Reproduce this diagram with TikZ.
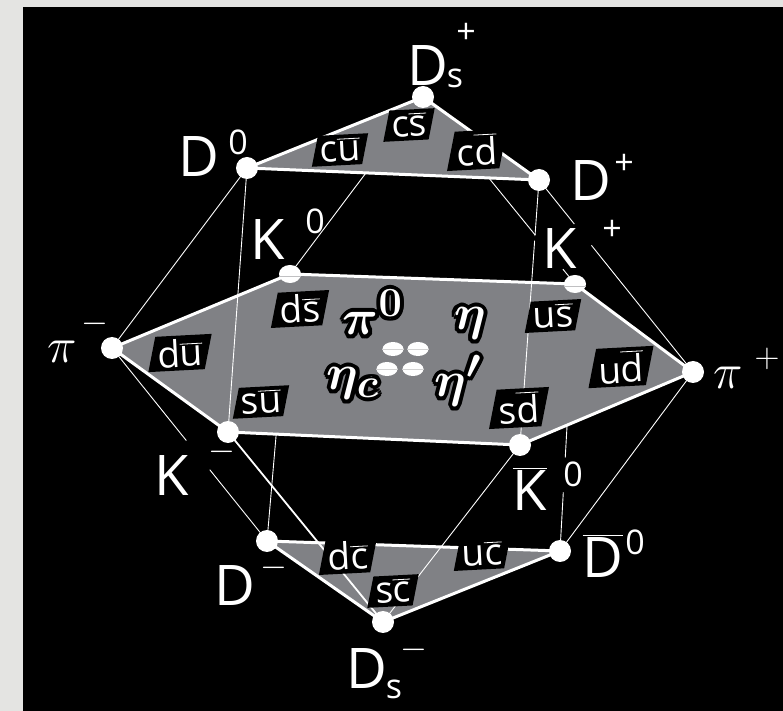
\documentclass[tikz,border=0pt]{standalone}
\usepackage{fontspec}
\setmainfont{Open Sans}
\usepackage{xcolor}
\usepackage{tikz}
\usetikzlibrary{calc,shapes.geometric,positioning}
\definecolor{cFace}{RGB}{128,129,133}
\definecolor{cPaper}{RGB}{228,228,226}
\tikzset{
  face/.style={fill=cFace, draw=white, line width=1.5pt, line join=round},
  wire/.style={draw=white, line width=0.45pt},
  wirek/.style={draw=white, line width=0.9pt},
  knock/.style={draw=black, line width=3.5pt},
  dot/.style={circle, fill=white, inner sep=0pt, minimum size=11pt},
  halfdot/.style={ellipse, fill=white, inner sep=0pt, minimum width=11pt, minimum height=9pt},
  qdot/.style={ellipse, fill=white, inner sep=0pt, minimum width=10.5pt, minimum height=7pt},
  qbox/.style={trapezium, trapezium left angle=76, trapezium right angle=104,
               fill=black, text=white, inner xsep=0.6pt, inner ysep=1.6pt, rotate=3,
               font=\fontsize{18.5}{18.5}\selectfont},
  plbl/.style={text=white, inner sep=0pt, font=\fontsize{28}{28}\selectfont},
  psup/.style={text=white, inner sep=0pt, font=\fontsize{17}{17}\selectfont},
  pilbl/.style={text=white, inner sep=0pt, font=\fontsize{27}{27}\selectfont},
  greek/.style={text=white, inner sep=0pt, anchor=base, font=\fontsize{32}{32}\selectfont\boldmath},
}
\newcommand{\qpair}[2]{#1$\overline{\mbox{#2}}$}
\newcommand{\halo}[3]{%
  \foreach \ang in {0,30,...,330}
    \node[greek, text=black] at ($(#2)+(\ang:2pt)$) {#3};
  \node[greek] (#1) at (#2) {#3};}

\begin{document}
\begin{tikzpicture}[x=0.5pt,y=-0.5pt]
  \useasboundingbox (0,0) rectangle (783,711);
  \fill[cPaper] (0,0) rectangle (783,711);
  \fill[black] (23,7) rectangle (783,711);
  % corners of the weight diagram
  \coordinate (Dsp) at (423,97);
  \coordinate (Dz)  at (247,168);
  \coordinate (Dp)  at (539,180);
  \coordinate (Kz)  at (290,274);
  \coordinate (Kp)  at (575,284);
  \coordinate (pim) at (112,348);
  \coordinate (pip) at (693,372);
  \coordinate (Km)  at (228,432);
  \coordinate (Kzb) at (520,445);
  \coordinate (Dm)  at (267,541);
  \coordinate (Dzb) at (560,551);
  \coordinate (Dsm) at (383,622);
  % edges behind the planes
  \draw[wire] (Dsp) -- (Kz) (Dsp) -- (Kp) (Kz) -- (Dm) (Kp) -- (Dzb);
  \draw[wire] (pim) -- (Dz) (pim) -- (Dm) (pip) -- (Dp) (pip) -- (Dzb);
  % the three planes
  \filldraw[face] (Dz) -- (Dsp) -- (Dp) -- cycle;
  \filldraw[face] (pim) -- (Kz) -- (Kp) -- (pip) -- (Kzb) -- (Km) -- cycle;
  \filldraw[face] (Dm) -- (Dzb) -- (Dsm) -- cycle;
  % edges in front
  \draw[wire] (Dz) -- (Km) (Dp) -- (Kzb) (Kzb) -- (Dsm);
  \draw[wirek] (Km) -- (Dsm);
  % gaps where lines pass behind labels
  \draw[knock, line width=4pt] ($(Dsp)!0.74!(Kp)$) -- ($(Dsp)!0.92!(Kp)$);
  \draw[knock] ($(Dp)!0.23!(pip)$) -- ($(Dp)!0.34!(pip)$);
  \draw[knock] ($(pim)!0.48!(Dm)$) -- ($(pim)!0.63!(Dm)$);
  \draw[knock] ($(Dzb)!0.22!(Kp)$) -- ($(Dzb)!0.35!(Kp)$);
  % quark content
  \node[qbox] (qcu) at (340,150) {\qpair{c}{u}};
  \node[qbox] (qcs) at (409,125) {\qpair{c}{s}};
  \node[qbox] (qcd) at (477,150) {\qpair{c}{d}};
  \node[qbox] (qds) at (300,309) {\qpair{d}{s}};
  \node[qbox] (qdu) at (180,353) {\qpair{d}{u}};
  \node[qbox] (qsu) at (261,402) {\qpair{s}{u}};
  \node[qbox] (qus) at (553,316) {\qpair{u}{s}};
  \node[qbox] (qud) at (621,367) {\qpair{u}{d}};
  \node[qbox] (qsd) at (519,408) {\qpair{s}{d}};
  \node[qbox] (qdc) at (348,556) {\qpair{d}{c}};
  \node[qbox] (quc) at (482,554) {\qpair{u}{c}};
  \node[qbox] (qsc) at (393,591) {\qpair{s}{c}};
  % dots
  \foreach \v in {Dsp,Dz,Dp,pim,pip,Km,Kzb,Dm,Dzb,Dsm}
    \node[dot] (d\v) at (\v) {};
  \foreach \v in {Kz,Kp} {
    \node[halfdot] (d\v) at (\v) {};
    \draw[cFace!50!white, line width=0.4pt] ([yshift=-1.2pt]d\v.west) -- ([yshift=-1.2pt]d\v.east);
  }
  \foreach \n/\p in {q1/{393,349},q2/{418,349},q3/{387,369},q4/{413,369}} {
    \node[qdot] (\n) at (\p) {};
    \draw[gray!35, line width=0.4pt] (\n.west) -- (\n.east);
  }
  % centre labels
  \halo{gpi}{373,335}{$\pi^0$}
  \halo{geta}{470,330}{$\eta$}
  \halo{getac}{353,390}{$\eta_c$}
  \halo{getap}{458,397}{$\eta'$}
  % particle labels
  \node[plbl] (lDsp) at (428,66) {D};
  \node[psup] (lDsp-s) at (455,78) {s};
  \node[psup] (lDsp-c) at (466,33) {+};
  \node[plbl] (lDz) at (199,157) {D};
  \node[psup] (lDz-c) at (238,142) {0};
  \node[plbl] (lDp) at (591,181) {D};
  \node[psup] (lDp-c) at (624,164) {+};
  \node[plbl] (lKz) at (268,240) {K};
  \node[psup] (lKz-c) at (315,221) {0};
  \node[plbl] (lKp) at (560,249) {K};
  \node[psup] (lKp-c) at (612,230) {+};
  \node[pilbl] (lpim) at (62,352) {$\pi$};
  \node[psup] (lpim-c) at (95,324) {$-$};
  \node[pilbl] (lpip) at (728,378) {$\pi$};
  \node[psup] (lpip-c) at (767,359) {$+$};
  \node[plbl] (lKm) at (172,476) {K};
  \node[psup] (lKm-c) at (222,452) {$-$};
  \node[plbl] (lKzb) at (530,489) {$\overline{\mbox{K}}$};
  \node[psup] (lKzb-c) at (573,474) {0};
  \node[plbl] (lDm) at (235,586) {D};
  \node[psup] (lDm-c) at (274,568) {$-$};
  \node[plbl] (lDzb) at (603,556) {$\overline{\mbox{D}}$};
  \node[psup] (lDzb-c) at (635,542) {0};
  \node[plbl] (lDsm) at (367,669) {D};
  \node[psup] (lDsm-s) at (394,689) {s};
  \node[psup] (lDsm-c) at (414,650) {$-$};
\end{tikzpicture}
\end{document}
